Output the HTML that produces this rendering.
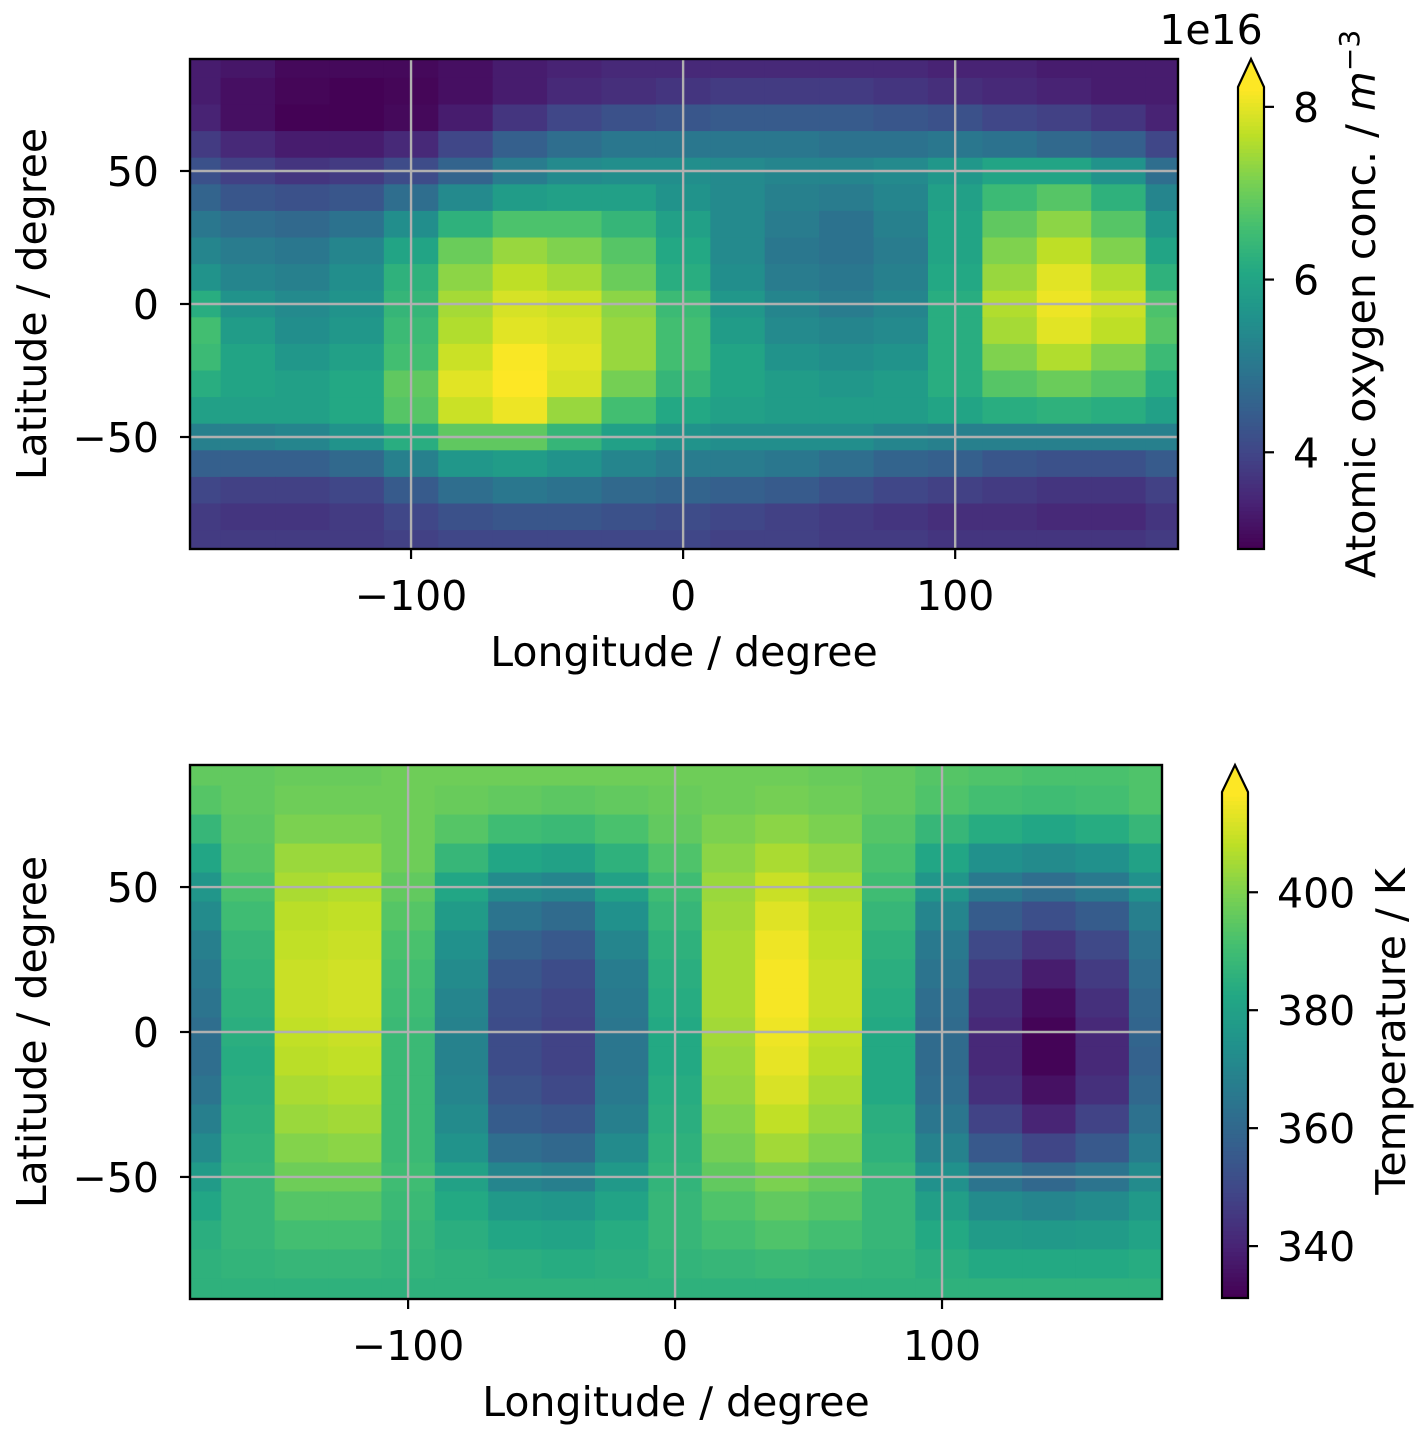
<!DOCTYPE html>
<html><head><meta charset="utf-8"><style>body{margin:0;background:#fff}svg{display:block;font-family:"DejaVu Sans","Liberation Sans",sans-serif}</style></head>
<body>
<svg id="fig" width="1428" height="1439" viewBox="0 0 1428 1439" xmlns="http://www.w3.org/2000/svg"></svg>
<script>
const lonCenters=[-180,-160,-140,-120,-100,-80,-60,-40,-20,0,20,40,60,80,100,120,140,160,180];
const latCenters=[90,80,70,60,50,40,30,20,10,0,-10,-20,-30,-40,-50,-60,-70,-80,-90];
const oxygenValues=[
[3.3,3.2,3.0,3.0,3.0,3.1,3.3,3.4,3.5,3.5,3.5,3.5,3.5,3.5,3.4,3.4,3.3,3.3,3.3],
[3.3,3.1,2.95,2.9,2.95,3.1,3.3,3.5,3.6,3.7,3.8,3.8,3.8,3.7,3.6,3.5,3.4,3.3,3.3],
[3.4,3.1,2.9,2.9,3.0,3.3,3.7,4.0,4.2,4.3,4.4,4.4,4.4,4.3,4.2,4.0,3.9,3.7,3.4],
[3.8,3.5,3.3,3.3,3.5,4.0,4.5,4.8,5.0,5.0,5.0,5.0,4.9,4.9,5.0,4.9,4.7,4.5,4.0],
[4.2,3.9,3.7,3.8,4.1,4.6,5.1,5.4,5.5,5.5,5.4,5.3,5.3,5.4,5.7,6.0,6.0,5.6,4.8],
[4.6,4.3,4.2,4.3,4.8,5.4,5.8,5.9,5.9,5.6,5.4,5.2,5.1,5.3,5.9,6.5,6.8,6.3,5.3],
[5.0,4.8,4.7,4.9,5.5,6.3,6.7,6.7,6.4,5.9,5.4,5.1,4.9,5.2,6.0,6.9,7.3,6.8,5.7],
[5.3,5.1,5.0,5.3,6.0,7.0,7.4,7.2,6.8,6.1,5.4,5.0,4.9,5.1,6.0,7.2,7.7,7.2,6.0],
[5.6,5.3,5.2,5.5,6.3,7.3,7.7,7.5,7.0,6.2,5.5,5.1,5.0,5.2,6.1,7.4,8.0,7.6,6.3],
[6.2,5.6,5.4,5.6,6.4,7.5,7.9,7.8,7.3,6.5,5.7,5.3,5.1,5.3,6.2,7.6,8.1,7.8,6.7],
[6.6,5.8,5.5,5.7,6.5,7.6,8.0,7.9,7.4,6.6,5.8,5.4,5.3,5.4,6.2,7.5,8.0,7.7,6.8],
[6.5,6.0,5.7,5.9,6.6,7.8,8.2,8.0,7.4,6.6,6.0,5.6,5.5,5.6,6.2,7.2,7.6,7.2,6.5],
[6.2,6.0,5.9,6.1,6.9,8.0,8.3,7.9,7.1,6.4,6.0,5.8,5.7,5.8,6.2,6.8,7.0,6.8,6.2],
[5.9,5.9,5.9,6.1,6.8,7.8,8.1,7.4,6.6,6.1,5.9,5.8,5.8,5.8,6.0,6.2,6.3,6.2,5.9],
[5.2,5.2,5.3,5.6,6.2,6.9,6.9,6.4,5.9,5.6,5.5,5.5,5.5,5.3,5.2,5.2,5.2,5.2,5.2],
[4.5,4.5,4.5,4.7,5.2,5.7,5.8,5.6,5.3,5.1,5.1,5.0,4.8,4.6,4.5,4.3,4.2,4.2,4.4],
[4.0,3.9,3.9,4.0,4.4,4.8,5.0,4.9,4.7,4.6,4.5,4.4,4.2,4.0,3.9,3.8,3.7,3.7,3.9],
[3.8,3.7,3.7,3.8,4.0,4.2,4.3,4.3,4.2,4.1,4.0,3.9,3.8,3.7,3.6,3.6,3.5,3.5,3.7],
[3.8,3.8,3.8,3.8,3.9,4.0,4.0,4.0,4.0,4.0,3.9,3.9,3.8,3.8,3.7,3.7,3.7,3.7,3.8]];
const tempValues=[
[396,396,397,397,398,398,398,398,398,398,398,398,397,396,394,393,392,392,393],
[394,396,398,398,398,397,396,395,396,397,398,399,398,396,393,391,390,391,393],
[388,395,400,400,398,394,390,389,392,396,400,402,400,394,388,384,382,384,388],
[382,394,404,404,398,388,382,380,386,393,402,406,403,392,382,374,372,374,380],
[376,392,406,407,396,382,372,370,380,390,404,410,406,390,376,366,362,366,374],
[372,390,408,409,394,378,364,361,374,388,405,413,408,388,370,356,352,356,368],
[368,388,409,410,392,374,358,355,370,386,406,415,409,386,366,350,344,350,364],
[366,387,410,411,391,372,354,351,367,385,406,416,410,385,364,346,338,346,362],
[364,386,410,411,390,370,352,349,366,384,406,416,410,384,362,343,334,343,360],
[362,385,409,410,389,369,351,348,365,383,405,415,409,383,361,341,332,341,359],
[362,384,408,409,389,369,351,348,365,383,404,414,408,383,361,341,332,341,358],
[364,385,406,407,389,370,353,350,366,384,403,412,406,383,362,343,335,343,360],
[368,386,404,405,389,372,356,354,368,385,401,409,404,385,365,348,340,348,363],
[372,387,401,402,389,375,362,360,372,386,399,405,401,386,369,355,349,355,367],
[378,388,398,398,390,380,370,368,377,387,396,400,397,388,374,364,360,364,372],
[382,388,394,394,389,383,377,376,381,388,393,396,394,388,379,372,370,372,377],
[385,388,391,391,388,385,382,381,384,388,391,393,391,388,383,378,377,378,381],
[386,387,388,388,387,386,385,384,385,387,388,389,388,387,385,383,383,383,384],
[386,386,386,386,386,386,386,386,386,386,386,386,386,386,386,386,386,386,386]];
const xTicks=[-100,0,100];
const xTickLabels=["\u2212100","0","100"];
const yTicks=[50,0,-50];
const yTickLabels=["50","0","\u221250"];
const oxyCbTicks=[4,6,8];
const oxyCbLabels=["4","6","8"];
const tempCbTicks=[340,360,380,400];
const tempCbLabels=["340","360","380","400"];

const NS="http://www.w3.org/2000/svg";
const FS=41;
const svg=document.getElementById('fig');
const stops=["#440154","#482475","#414487","#355f8d","#2a788e","#21918c","#22a884","#44bf70","#7ad151","#bddf26","#fde725"].map(h=>[parseInt(h.substr(1,2),16),parseInt(h.substr(3,2),16),parseInt(h.substr(5,2),16)]);
function viridis(t){t=Math.max(0,Math.min(1,t));const f=t*10,i=Math.min(9,Math.floor(f)),r=f-i;const a=stops[i],b=stops[i+1];return `rgb(${a.map((v,k)=>Math.round(v+(b[k]-v)*r)).join(',')})`;}
function mk(tag,attrs,parent){const e=document.createElementNS(NS,tag);for(const k in attrs)e.setAttribute(k,attrs[k]);(parent||svg).appendChild(e);return e;}

function panel(o){
  const {id,L,R,T,B,lon0,lon1,lat0,lat1,values,vmin,vmax,cbX,cbT,cbB,cbTip,cbTicks,cbLabels,cbTitle,cbTitleX}=o;
  const xs=v=>L+(v-lon0)/(lon1-lon0)*(R-L);
  const ys=v=>B-(v-lat0)/(lat1-lat0)*(B-T);
  const g=mk('g',{});
  
  
  const clip=mk('clipPath',{id:id+'clip'},svg);mk('rect',{x:L,y:T,width:R-L,height:B-T},clip);
  const cells=mk('g',{'clip-path':`url(#${id}clip)`},g);
  latCenters.forEach((la,i)=>lonCenters.forEach((lo,j)=>{
    const x0=xs(lo-10),x1=xs(lo+10),y0=ys(la+5),y1=ys(la-5);
    const r=mk('rect',{x:x0,y:y0,width:x1-x0+0.6,height:y1-y0+0.6,fill:viridis((values[i][j]-vmin)/(vmax-vmin))},cells);
    
    
  }));
  xTicks.forEach((t,k)=>{const x=xs(t);
    mk('line',{x1:x,x2:x,y1:T,y2:B,stroke:'#b0b0b0','stroke-width':2.4},g);
    mk('line',{x1:x,x2:x,y1:B,y2:B+10,stroke:'#000','stroke-width':2.2},g);
    const tx=mk('text',{x:x,y:B+61,'font-size':FS,'text-anchor':'middle'},g);tx.textContent=xTickLabels[k];
    
    });
  yTicks.forEach((t,k)=>{const y=ys(t);
    mk('line',{x1:L,x2:R,y1:y,y2:y,stroke:'#b0b0b0','stroke-width':2.4},g);
    mk('line',{x1:L-10,x2:L,y1:y,y2:y,stroke:'#000','stroke-width':2.2},g);
    const tx=mk('text',{x:L-31,y:y+15,'font-size':FS,'text-anchor':'end'},g);tx.textContent=yTickLabels[k];
    
    });
  mk('rect',{x:L,y:T,width:R-L,height:B-T,fill:'none',stroke:'#000','stroke-width':2.4},g);
  const xl=mk('text',{x:(L+R)/2,y:B+117,'font-size':FS,'text-anchor':'middle'},g);xl.textContent='Longitude / degree';
  
  const yl=mk('text',{x:0,y:0,'font-size':FS,'text-anchor':'middle',transform:`translate(46,${(T+B)/2}) rotate(-90)`},g);yl.textContent='Latitude / degree';
  
  const cb=mk('g',{});
  
  
  const W=26,N=120;
  for(let k=0;k<N;k++){const y0=cbB-(k+1)*(cbB-cbT)/N;mk('rect',{x:cbX,y:y0,width:W,height:(cbB-cbT)/N+0.6,fill:viridis(k/(N-1))},cb);}
  mk('polygon',{points:`${cbX},${cbT} ${cbX+W/2},${cbTip} ${cbX+W},${cbT}`,fill:viridis(1)},cb);
  mk('polygon',{points:`${cbX},${cbB} ${cbX},${cbT} ${cbX+W/2},${cbTip} ${cbX+W},${cbT} ${cbX+W},${cbB}`,fill:'none',stroke:'#000','stroke-width':2.2},cb);
  const cs=v=>cbB-(v-vmin)/(vmax-vmin)*(cbB-cbT);
  cbTicks.forEach((t,k)=>{const y=cs(t);
    mk('line',{x1:cbX+W,x2:cbX+W+10,y1:y,y2:y,stroke:'#000','stroke-width':2.2},cb);
    const tx=mk('text',{x:cbX+W+29,y:y+15,'font-size':FS},cb);tx.textContent=cbLabels[k];
    });
  const ct=mk('text',{x:0,y:0,'font-size':FS,'text-anchor':'middle',transform:`translate(${cbTitleX},${(cbTip+cbB)/2}) rotate(-90)`},cb);
  ct.innerHTML=cbTitle;
  
}
panel({id:'oxygen',L:190,R:1178,T:59,B:549,lon0:-181.25,lon1:181.9,lat0:-92.1,lat1:92.1,values:oxygenValues,vmin:2.88,vmax:8.23,
  cbX:1238,cbT:87,cbB:549,cbTip:59,cbTicks:oxyCbTicks,cbLabels:oxyCbLabels,cbTitleX:1375,
  cbTitle:'Atomic oxygen conc. / <tspan font-style="italic">m</tspan><tspan dy="-16" font-size="28">\u22123</tspan>'});
panel({id:'temperature',L:190,R:1162,T:765,B:1299,lon0:-181.7,lon1:182.4,lat0:-92.1,lat1:92.1,values:tempValues,vmin:331.2,vmax:417,
  cbX:1222,cbT:792,cbB:1298,cbTip:765,cbTicks:tempCbTicks,cbLabels:tempCbLabels,cbTitleX:1405,cbTitle:'Temperature / K'});
const off=mk('text',{x:1211,y:44,'font-size':FS,'text-anchor':'middle'});off.textContent='1e16';


</script>
</body></html>
